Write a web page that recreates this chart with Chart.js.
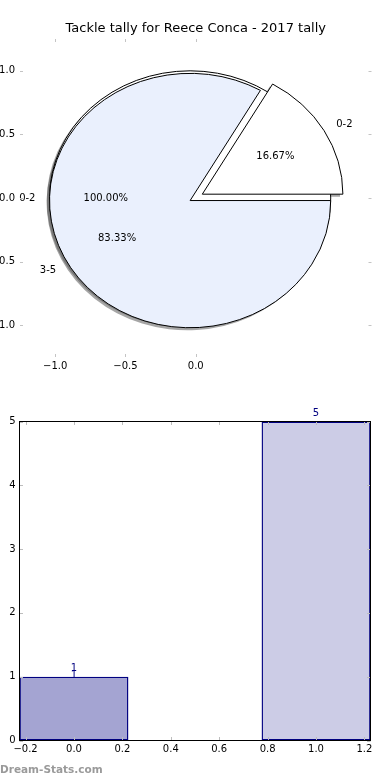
<!DOCTYPE html>
<html>
<head>
<meta charset="utf-8">
<script src="https://cdn.jsdelivr.net/npm/chart.js@4/dist/chart.umd.min.js"></script>
<style>
  html, body { margin: 0; padding: 0; background: #fff; }
  body { width: 390px; height: 780px; position: relative; overflow: hidden; }
  canvas { position: absolute; left: 0; }
  #pie { top: 0; }
  #bar { top: 390px; }
  #mark { position: absolute; left: 0; top: 764px; font: bold 10.5px 'DejaVu Sans'; line-height: 11px; color: #9a9a9a; }
</style>
</head>
<body>
<canvas id="pie" width="390" height="390"></canvas>
<canvas id="bar" width="390" height="390"></canvas>
<div id="mark">Dream-Stats.com</div>
<script>
const TITLE = 'Tackle tally for Reece Conca - 2017 tally';

// an earlier one-slice pie is still showing underneath
const OLD_PIE_LABELS = ['0-2'];
const OLD_PIE_VALUES = [1];
const OLD_PIE_COLORS = ['#ffffff'];

const PIE_LABELS = ['0-2', '3-5'];
const PIE_VALUES = [1, 5];
const PIE_COLORS = ['#ffffff', '#eaf0fd'];
const PIE_EXPLODE = [0.1, 0];

const PIE_X_TICKS = [-1.0, -0.5, 0.0];
const PIE_Y_TICKS = [-1.0, -0.5, 0.0, 0.5, 1.0];

const BAR_X = [0, 1];
const BAR_VALUES = [1, 5];
const BAR_COLORS = ['#a4a4d2', '#ccccE6'];
const BAR_LEFTOVER_LABELS = ['1', ''];
const BAR_X_TICKS = [-0.2, 0.0, 0.2, 0.4, 0.6, 0.8, 1.0, 1.2];
const BAR_Y_TICKS = [0, 1, 2, 3, 4, 5];

const BAR_WIDTH = 0.45;
const PIE_CENTER = [-0.04, -0.02];
const OLD_PIE_CENTER = [-0.04, 0];

const FONT = 'DejaVu Sans';
const tickFont = { family: FONT, size: 10 };
const fmt = v => (v < 0 ? '\u2212' : '') + Math.abs(v).toFixed(1);

// matplotlib style ticks, drawn inwards on all four sides
const innerTicks = {
  id: 'innerTicks',
  afterDatasetsDraw(chart, args, opts) {
    const { ctx, chartArea: a, scales: { x, y } } = chart;
    const len = opts.len;
    ctx.save();
    ctx.strokeStyle = opts.color;
    ctx.lineWidth = 1;
    ctx.beginPath();
    x.ticks.forEach(t => {
      const px = Math.round(x.getPixelForValue(t.value)) + 0.5;
      ctx.moveTo(px, a.bottom); ctx.lineTo(px, a.bottom - len);
      ctx.moveTo(px, a.top); ctx.lineTo(px, a.top + len);
    });
    y.ticks.forEach(t => {
      const py = Math.round(y.getPixelForValue(t.value)) + 0.5;
      ctx.moveTo(a.left, py); ctx.lineTo(a.left + len, py);
      ctx.moveTo(a.right, py); ctx.lineTo(a.right - len, py);
    });
    ctx.stroke();
    ctx.restore();
  }
};

const frame = {
  id: 'frame',
  afterDatasetsDraw(chart, args, opts) {
    if (!opts.show) return;
    const { ctx, chartArea: a } = chart;
    ctx.save();
    ctx.strokeStyle = '#000';
    ctx.lineWidth = 1;
    ctx.strokeRect(a.left, a.top, a.right - a.left, a.bottom - a.top);
    ctx.restore();
  }
};

// pie wedges laid out on the x/y data scales (so the pie comes out elliptical)
const piePlugin = {
  id: 'piePlugin',
  afterDatasetsDraw(chart) {
    const { ctx, scales: { x, y } } = chart;
    const rx = x.getPixelForValue(1) - x.getPixelForValue(0);
    const ry = y.getPixelForValue(0) - y.getPixelForValue(1);
    const sdx = x.getPixelForValue(-0.02) - x.getPixelForValue(0);
    const sdy = y.getPixelForValue(-0.02) - y.getPixelForValue(0);
    const layers = [
      { values: OLD_PIE_VALUES, labels: OLD_PIE_LABELS, colors: OLD_PIE_COLORS, explode: [0], center: OLD_PIE_CENTER },
      { values: PIE_VALUES, labels: PIE_LABELS, colors: PIE_COLORS, explode: PIE_EXPLODE, center: PIE_CENTER }
    ];
    const wedges = [];
    layers.forEach(l => {
      const total = l.values.reduce((s, v) => s + v, 0);
      let ang = 0;
      l.values.forEach((v, i) => {
        const a1 = ang, a2 = ang + 2 * Math.PI * v / total;
        ang = a2;
        const mid = (a1 + a2) / 2;
        const ox = l.center[0] + l.explode[i] * Math.cos(mid);
        const oy = l.center[1] + l.explode[i] * Math.sin(mid);
        wedges.push({
          ox, oy, a1, a2, mid,
          cx: x.getPixelForValue(ox), cy: y.getPixelForValue(oy),
          full: v === total, color: l.colors[i], label: l.labels[i],
          pct: (100 * v / total).toFixed(2) + '%'
        });
      });
    });
    const path = (w, dx, dy) => {
      ctx.beginPath();
      if (!w.full) ctx.moveTo(w.cx + dx, w.cy + dy);
      ctx.ellipse(w.cx + dx, w.cy + dy, rx, ry, 0, -w.a1, -w.a2, true);
      ctx.closePath();
    };
    ctx.save();
    wedges.forEach(w => {
      path(w, sdx, sdy);
      ctx.fillStyle = 'rgba(77,77,77,0.5)';
      ctx.fill();
    });
    wedges.forEach(w => {
      path(w, 0, 0);
      ctx.fillStyle = w.color;
      ctx.fill();
      ctx.strokeStyle = '#000';
      ctx.lineWidth = 1;
      ctx.lineJoin = 'miter';
      ctx.stroke();
    });
    ctx.fillStyle = '#000';
    ctx.font = '10px "' + FONT + '"';
    ctx.textBaseline = 'middle';
    wedges.forEach(w => {
      const c = Math.cos(w.mid), s = Math.sin(w.mid);
      ctx.textAlign = c > 0 ? 'left' : 'right';
      ctx.fillText(w.label, x.getPixelForValue(w.ox + 1.1 * c), y.getPixelForValue(w.oy + 1.1 * s));
      ctx.textAlign = 'center';
      ctx.fillText(w.pct, x.getPixelForValue(w.ox + 0.6 * c), y.getPixelForValue(w.oy + 0.6 * s));
    });
    ctx.restore();
  }
};

const barLabels = {
  id: 'barLabels',
  afterDatasetsDraw(chart) {
    const { ctx } = chart;
    const meta = chart.getDatasetMeta(0);
    ctx.save();
    ctx.fillStyle = '#000080';
    ctx.font = '10px "' + FONT + '"';
    ctx.textAlign = 'center';
    ctx.textBaseline = 'alphabetic';
    meta.data.forEach((bar, i) => {
      ctx.fillText(String(BAR_VALUES[i]), bar.x, bar.y - 6);
      if (BAR_LEFTOVER_LABELS[i]) ctx.fillText(BAR_LEFTOVER_LABELS[i], bar.x, bar.y + 1.5);
    });
    ctx.restore();
  }
};

const axisCommon = (ticks, fit) => ({
  type: 'linear',
  afterBuildTicks: s => { s.ticks = ticks.map(v => ({ value: v })); },
  afterFit: fit,
  grid: { display: false, drawTicks: false },
  border: { display: false }
});

new Chart(document.getElementById('pie'), {
  type: 'scatter',
  data: { datasets: [] },
  options: {
    responsive: false,
    animation: false,
    layout: { padding: { left: 0, right: 18.5, top: 0, bottom: 0 } },
    plugins: {
      legend: { display: false },
      tooltip: { enabled: false },
      title: {
        display: true, text: TITLE, color: '#000', fullSize: false,
        font: { family: FONT, size: 13, weight: 'normal' },
        padding: { top: 21.2, bottom: 2.2 }
      },
      innerTicks: { color: '#c4c4c4', len: 3 },
      frame: { show: false }
    },
    scales: {
      x: Object.assign(axisCommon(PIE_X_TICKS, s => { s.height = 33; }), {
        min: -1.25, max: 1.25,
        ticks: { font: tickFont, color: '#000', padding: 3, autoSkip: false, maxRotation: 0, callback: fmt }
      }),
      y: Object.assign(axisCommon(PIE_Y_TICKS, s => { s.width = 20; }), {
        min: -1.25, max: 1.25,
        ticks: { font: tickFont, color: '#000', padding: 5, autoSkip: false, callback: fmt }
      })
    }
  },
  plugins: [piePlugin, innerTicks, frame]
});

new Chart(document.getElementById('bar'), {
  type: 'bar',
  data: {
    datasets: [{
      data: BAR_X.map((x, i) => ({ x, y: BAR_VALUES[i] })),
      backgroundColor: BAR_COLORS,
      borderColor: '#000080',
      borderWidth: 1.4,
      borderSkipped: false,
      categoryPercentage: 1,
      // the bar ruler uses the 0.2 tick spacing, so scale the width from it
      barPercentage: BAR_WIDTH / 0.2
    }]
  },
  options: {
    responsive: false,
    animation: false,
    layout: { padding: { left: 0, right: 19.5, top: 31.5, bottom: 0 } },
    plugins: {
      legend: { display: false },
      tooltip: { enabled: false },
      innerTicks: { color: '#bdbdbd', len: 3.5 },
      frame: { show: true }
    },
    scales: {
      x: Object.assign(axisCommon(BAR_X_TICKS, s => { s.height = 39.5; }), {
        min: -0.225, max: 1.225, offset: false,
        ticks: { font: tickFont, color: '#000', padding: 3, autoSkip: false, maxRotation: 0, callback: fmt }
      }),
      y: Object.assign(axisCommon(BAR_Y_TICKS, s => { s.width = 19.5; }), {
        min: 0, max: 5,
        ticks: { font: tickFont, color: '#000', padding: 4, autoSkip: false, callback: v => String(v) }
      })
    }
  },
  plugins: [innerTicks, frame, barLabels]
});
</script>
</body>
</html>
